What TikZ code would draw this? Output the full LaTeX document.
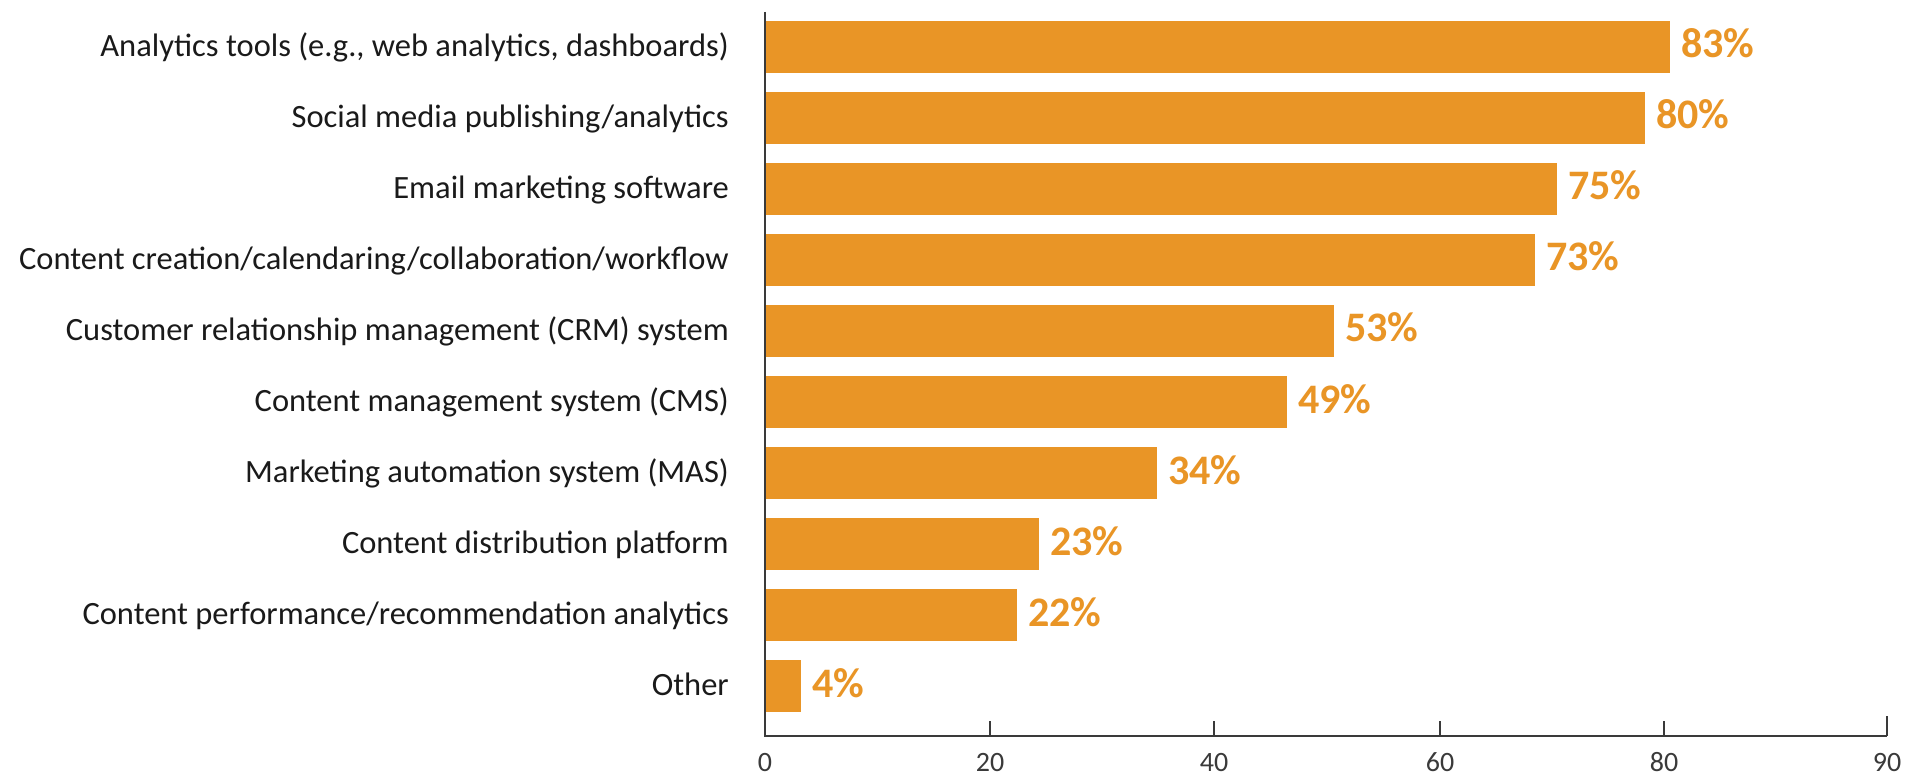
\documentclass[tikz,border=0pt]{standalone}
\usepackage{fontspec}
\setmainfont{Carlito}
\definecolor{barorange}{HTML}{E99526}
\definecolor{labelink}{HTML}{1A1A1A}
\definecolor{axisink}{HTML}{3A3A3A}
\begin{document}
\begin{tikzpicture}[x=1pt,y=-1pt,
  barfill/.style={fill=barorange},
  catlabel/.style={anchor=base east,inner sep=0pt,text=labelink,font=\fontsize{32.5}{38}\selectfont},
  pctlabel/.style={anchor=base west,inner sep=0pt,text=barorange,font=\fontsize{42}{50}\selectfont\bfseries},
  ticklabel/.style={anchor=base,inner sep=0pt,text=axisink,font=\fontsize{28}{34}\selectfont},
  axisline/.style={draw=axisink,line width=1.3pt},
  tickline/.style={draw=axisink,line width=1.2pt}]
\useasboundingbox[fill=white] (0,0) rectangle (1911,775);
\foreach \i/\val/\endx/\lab in {
  0/83/1670/{Analytics tools (e.g., web analytics, dashboards)},
  1/80/1645/{Social media publishing/analytics},
  2/75/1557/{Email marketing software},
  3/73/1535/{Content creation/calendaring/collaboration/workflow},
  4/53/1334/{Customer relationship management (CRM) system},
  5/49/1287/{Content management system (CMS)},
  6/34/1157/{Marketing automation system (MAS)},
  7/23/1039/{Content distribution platform},
  8/22/1017/{Content performance/recommendation analytics},
  9/4/801/{Other}}{
  \fill[barfill] (765,{21+71*\i}) rectangle (\endx,{73+71*\i});
  \node[pctlabel] (pct\i) at ({\endx+11},{58+71*\i}) {\val\%};
  \node[catlabel] (cat\i) at (729,{56.5+71*\i}) {\lab};
}
\coordinate (ytop) at (765,12);
\coordinate (origin) at (765,736);
\coordinate (xend) at (1887,736);
\draw[axisline] (ytop) -- (origin) -- (xend);
\foreach \x/\t/\top in {990/20/721,1214/40/721,1440/60/721,1664/80/721,1887/90/716}{
  \coordinate (tk\t) at (\x,736);
  \coordinate (tt\t) at (\x,\top);
  \draw[tickline] (tk\t) -- (tt\t);
}
\foreach \x/\t in {765/0,990/20,1214/40,1440/60,1664/80,1887/90}{
  \node[ticklabel] (tl\t) at (\x,771.5) {\t};
}
\end{tikzpicture}
\end{document}
